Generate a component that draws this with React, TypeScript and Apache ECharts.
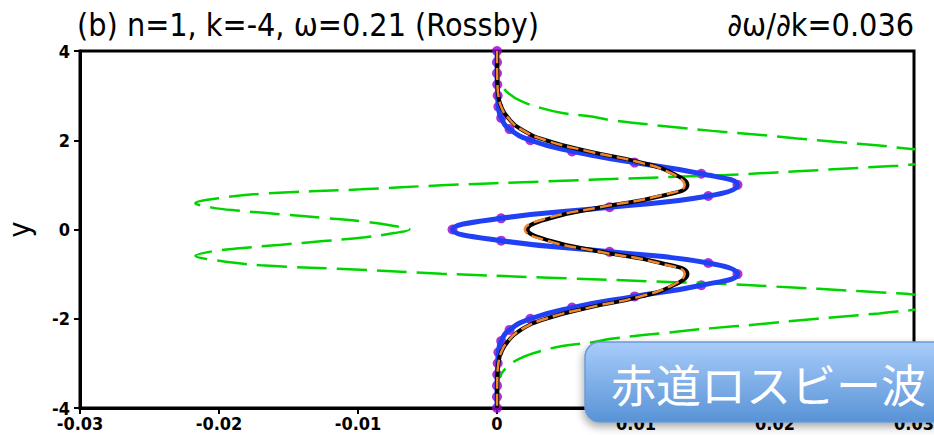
import React, { useEffect, useRef } from "react";
import * as echarts from "echarts";

// y levels (sampling of the profiles), top to bottom
const yLevels = [
  4, 3.75, 3.5, 3.25, 3, 2.75, 2.5, 2.25, 2, 1.75, 1.5, 1.25, 1, 0.75, 0.5, 0.25, 0,
  -0.25, -0.5, -0.75, -1, -1.25, -1.5, -1.75, -2, -2.25, -2.5, -2.75, -3, -3.25, -3.5, -3.75, -4,
];
// thick blue profile (also carries the purple dots)
const blueX = [
  0, 0, 0, 0.00002, 0.00005, 0.0001, 0.0003, 0.0009, 0.0024, 0.0054, 0.0099, 0.0147, 0.0173, 0.0152, 0.0081, 0.0003, -0.0032,
  0.0003, 0.0081, 0.0152, 0.0173, 0.0147, 0.0099, 0.0054, 0.0024, 0.0009, 0.0003, 0.0001, 0.00005, 0.00002, 0, 0, 0,
];
// black solid profile
const blackX = [
  0, 0, 0.00001, 0.00003, 0.0001, 0.0003, 0.0008, 0.0017, 0.0035, 0.0066, 0.0104, 0.0127, 0.0137, 0.0118, 0.0075, 0.0038, 0.0022,
  0.0038, 0.0075, 0.0118, 0.0137, 0.0127, 0.0104, 0.0066, 0.0035, 0.0017, 0.0008, 0.0003, 0.0001, 0.00003, 0.00001, 0, 0,
];
// orange dashed profile
const orangeX = [
  0, 0, 0.00001, 0.00003, 0.0001, 0.0003, 0.0008, 0.0017, 0.0035, 0.0066, 0.0103, 0.0126, 0.0135, 0.0116, 0.0074, 0.0036, 0.002,
  0.0036, 0.0074, 0.0116, 0.0135, 0.0126, 0.0103, 0.0066, 0.0035, 0.0017, 0.0008, 0.0003, 0.0001, 0.00003, 0.00001, 0, 0,
];
// green dashed profile
const greenY = [
  4, 3.5, 3.35, 3.24, 3.06, 2.88, 2.72, 2.61, 2.53, 2.45, 2.28, 2.21, 2.13, 2.04, 1.96, 1.88, 1.8, 1.72, 1.63, 1.54,
  1.47, 1.43, 1.38, 1.33, 1.28, 1.22, 1.18, 1.08, 0.99, 0.9, 0.8, 0.7, 0.59, 0.49, 0.42, 0.34, 0.26, 0.175, 0.08, 0,
  -0.08, -0.175, -0.26, -0.34, -0.42, -0.49, -0.59, -0.7, -0.8, -0.9, -0.99, -1.08, -1.18, -1.22, -1.28, -1.33, -1.38, -1.43,
  -1.47, -1.54, -1.63, -1.72, -1.8, -1.88, -1.96, -2.04, -2.13, -2.21, -2.28, -2.45, -2.53, -2.61, -2.72, -2.88, -3.06, -3.24,
  -3.35, -3.5, -4,
];
const greenX = [
  0, 0, 0.0001, 0.0003, 0.0008, 0.0017, 0.0032, 0.0047, 0.0068, 0.0082, 0.0132, 0.0155, 0.0186, 0.0216, 0.0245, 0.0275, 0.03, 0.033, 0.0345, 0.0332,
  0.0305, 0.0288, 0.026, 0.0231, 0.0201, 0.0165, 0.0128, 0.0037, -0.004, -0.0098, -0.017, -0.02, -0.0217, -0.0205, -0.0185, -0.0155, -0.0125, -0.0095, -0.0074, -0.0063,
  -0.0074, -0.0095, -0.0125, -0.0155, -0.0185, -0.0205, -0.0217, -0.02, -0.017, -0.0098, -0.004, 0.0037, 0.0128, 0.0165, 0.0201, 0.0231, 0.026, 0.0288,
  0.0305, 0.0332, 0.0345, 0.033, 0.03, 0.0275, 0.0245, 0.0216, 0.0186, 0.0155, 0.0132, 0.0082, 0.0068, 0.0047, 0.0032, 0.0017, 0.0008, 0.0003,
  0.0001, 0, 0,
];

const xTickLabels: Record<string, string> = {
  "-0.03": "-0.03", "-0.02": "-0.02", "-0.01": "-0.01", "0": "0", "0.01": "0.01", "0.02": "0.02", "0.03": "0.03",
};
const titleLeft = "(b) n=1, k=-4, ω=0.21 (Rossby)";
const titleRight = "∂ω/∂k=0.036";
const badgeText = "赤道ロスビー波";

const FONT = "'DejaVu Sans Condensed', 'DejaVu Sans', sans-serif";

export default function App() {
  const ref = useRef<HTMLDivElement>(null);
  useEffect(() => {
    document.body.style.margin = "0";
    const chart = echarts.init(ref.current!, null, { renderer: "svg" });
    const pairs = (xs: number[], ys: number[]) => xs.map((x, i) => [x, ys[i]]);
    chart.setOption({
      animation: false,
      backgroundColor: "#fff",
      title: [
        {
          text: titleLeft, left: 77, top: 9, padding: 0,
          textStyle: { fontSize: 32, fontWeight: "normal", fontFamily: FONT, color: "#000" },
        },
        {
          text: titleRight, right: 20, top: 9, padding: 0,
          textStyle: { fontSize: 32, fontWeight: "normal", fontFamily: FONT, color: "#000" },
        },
      ],
      grid: {
        left: 80, right: 20, top: 51, bottom: 27, show: true, borderColor: "#000", borderWidth: 3,
        backgroundColor: "transparent", outerBoundsMode: "none", containLabel: false,
      },
      xAxis: {
        type: "value", min: -0.03, max: 0.03, interval: 0.01,
        axisLine: { show: true, onZero: false, lineStyle: { color: "#000", width: 3 } },
        axisTick: { show: true, inside: false, length: 6, lineStyle: { color: "#000", width: 2 } },
        splitLine: { show: false },
        axisLabel: {
          margin: 6, color: "#000", fontSize: 18, fontWeight: "bold", fontFamily: FONT,
          formatter: (v: number) => xTickLabels[String(Math.round(v * 100) / 100)] ?? String(v),
        },
      },
      yAxis: {
        type: "value", min: -4, max: 4, interval: 2,
        name: "y", nameLocation: "middle", nameGap: 46, nameRotate: 90,
        nameTextStyle: { fontSize: 30, fontFamily: FONT, color: "#000" },
        axisLine: { show: true, onZero: false, lineStyle: { color: "#000", width: 3 } },
        axisTick: { show: true, inside: false, length: 6, lineStyle: { color: "#000", width: 2 } },
        splitLine: { show: false },
        axisLabel: { margin: 10, color: "#000", fontSize: 18, fontWeight: "bold", fontFamily: FONT },
      },
      series: [
        {
          type: "line", data: pairs(greenX, greenY), smooth: 0.4, showSymbol: false,
          lineStyle: { color: "#00d400", width: 2.5, type: [30, 10] },
        },
        {
          type: "line", data: pairs(blueX, yLevels), smooth: 0.5, showSymbol: false,
          lineStyle: { color: "#2040f4", width: 5 },
        },
        {
          type: "line", data: pairs(blackX, yLevels), smooth: 0.5, showSymbol: false,
          lineStyle: { color: "#000", width: 4 },
        },
        {
          type: "line", data: pairs(orangeX, yLevels), smooth: 0.5, showSymbol: false,
          lineStyle: { color: "#f0852a", width: 2.5, type: [12, 5] },
        },
        {
          type: "scatter", data: pairs(blueX, yLevels), symbol: "circle", symbolSize: 10,
          itemStyle: { color: "#9a00cc" },
        },
      ],
      graphic: [
        {
          type: "rect", x: 585, y: 342, z: 100, shape: { width: 380, height: 80, r: 15 },
          style: {
            fill: new echarts.graphic.LinearGradient(0, 0, 0, 1, [
              { offset: 0, color: "#a8ccfa" },
              { offset: 1, color: "#5893d6" },
            ]),
            stroke: "#6a9ad4", lineWidth: 1.5,
            shadowBlur: 8, shadowColor: "rgba(0,0,0,0.35)", shadowOffsetX: -1, shadowOffsetY: 4,
          },
        },
        {
          type: "text", x: 611, y: 383, z: 101,
          style: {
            text: badgeText, fill: "#fff", fontSize: 45, fontFamily: "'Noto Sans CJK JP', sans-serif",
            verticalAlign: "middle", align: "left",
          },
        },
      ],
    });
    return () => chart.dispose();
  }, []);
  return <div ref={ref} style={{ width: 934, height: 435 }} />;
}
